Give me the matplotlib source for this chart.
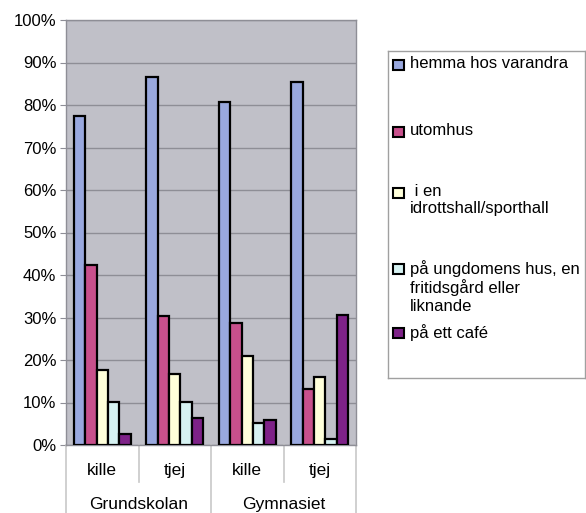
import matplotlib.pyplot as plt
from matplotlib.patches import Rectangle
from matplotlib.lines import Line2D
import numpy as np

plt.rcParams['font.family'] = ['Liberation Sans', 'DejaVu Sans']

# data (percent)
groups = ['Grundskolan', 'Gymnasiet']
genders = ['kille', 'tjej', 'kille', 'tjej']
series = ['hemma hos varandra', 'utomhus', ' i en\nidrottshall/sporthall',
          'på ungdomens hus, en\nfritidsgård eller\nliknande', 'på ett café']
hemma = [77.5, 86.7, 80.8, 85.5]
utomhus = [42.3, 30.4, 28.7, 13.1]
idrottshall = [17.6, 16.7, 20.9, 16.0]
ungdomens_hus = [10.2, 10.2, 5.2, 1.5]
cafe = [2.7, 6.4, 5.8, 30.7]
values = [hemma, utomhus, idrottshall, ungdomens_hus, cafe]
colors = ['#99A8DE', '#C8508C', '#FFFFDA', '#D6F2F2', '#7E2288']

fig = plt.figure(figsize=(5.86, 5.13), dpi=100)
ax = fig.add_axes([66 / 586, 1 - 445 / 513, 290 / 586, 425 / 513])
ax.set_facecolor('#C0C0C8')

x = np.arange(len(genders))
w = 0.158
for i, (vals, c) in enumerate(zip(values, colors)):
    ax.bar(x + (i - 2) * w, vals, w, color=c, edgecolor='black',
           linewidth=1.6, zorder=3)

ax.set_xlim(-0.5, 3.5)
ax.set_ylim(0, 100)
ax.set_yticks(range(0, 101, 10))
ax.set_yticklabels([f'{v}%' for v in range(0, 101, 10)], fontsize=12)
ax.yaxis.grid(True, color='#8E8E96', linewidth=1.0, zorder=0)
ax.tick_params(axis='y', length=4, color='#8E8E96', pad=3)
ax.set_xticks([])
for s in ax.spines.values():
    s.set_color('#8E8E96')
    s.set_linewidth(1.0)

# two level category axis
for i, g in enumerate(genders):
    ax.text(i, -0.059, g, transform=ax.get_xaxis_transform(),
            ha='center', va='center', fontsize=12.5)
for j, g in enumerate(groups):
    ax.text(2 * j + 0.5, -0.141, g, transform=ax.get_xaxis_transform(),
            ha='center', va='center', fontsize=12.5)
for xs, y_end in [(-0.5, -0.2), (0.5, -0.087), (1.5, -0.2), (2.5, -0.087), (3.5, -0.2)]:
    ax.add_line(Line2D([xs, xs], [0, y_end], transform=ax.get_xaxis_transform(),
                       color='#C8C8C8', linewidth=1.2, clip_on=False))

# legend box, drawn like the spreadsheet one
lax = fig.add_axes([388 / 586, 1 - 378 / 513, 197 / 586, 327 / 513])
lax.set_xlim(0, 197)
lax.set_ylim(327, 0)
lax.set_xticks([])
lax.set_yticks([])
for s in lax.spines.values():
    s.set_color('#A0A0A0')
    s.set_linewidth(1.0)
entry_y = [14, 81, 142, 218, 282]
for lab, c, yy in zip(series, colors, entry_y):
    lax.add_patch(Rectangle((5, yy - 5), 11, 10, facecolor=c,
                            edgecolor='black', linewidth=1.5))
    lax.text(22, yy - 9, lab, ha='left', va='top', fontsize=12,
             linespacing=1.18)

fig.savefig('out.png', dpi=100)
